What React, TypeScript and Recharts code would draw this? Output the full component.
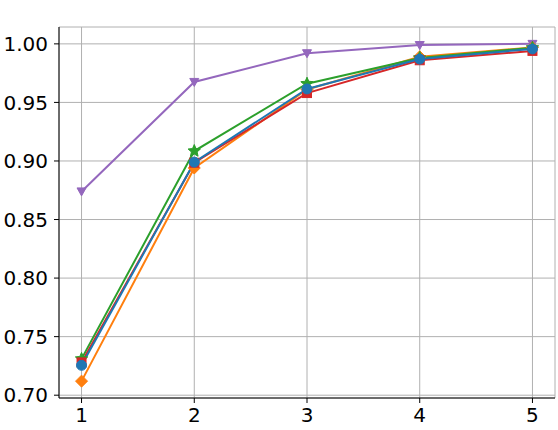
import { LineChart, Line, XAxis, YAxis, CartesianGrid } from 'recharts';

const steps = [1, 2, 3, 4, 5];
const blueVals = [0.7255, 0.899, 0.9615, 0.987, 0.9957];
const orangeVals = [0.712, 0.894, 0.961, 0.989, 0.997];
const greenVals = [0.731, 0.9085, 0.966, 0.988, 0.9966];
const redVals = [0.728, 0.8985, 0.958, 0.986, 0.994];
const purpleVals = [0.874, 0.9675, 0.992, 0.999, 1.0];
const yTicks = [0.7, 0.75, 0.8, 0.85, 0.9, 0.95, 1.0];

const data = steps.map((s, i) => ({
  step: s,
  blue: blueVals[i],
  orange: orangeVals[i],
  green: greenVals[i],
  red: redVals[i],
  purple: purpleVals[i],
}));

const tickStyle = { fontFamily: 'DejaVu Sans', fontSize: 20, fill: '#000' };

const CircleDot = (p: any) => <circle key={p.index} cx={p.cx} cy={p.cy} r={5} fill="#1f77b4" stroke="#1f77b4" />;
const DiamondDot = (p: any) => (
  <polygon key={p.index} points={`${p.cx},${p.cy - 6} ${p.cx + 6},${p.cy} ${p.cx},${p.cy + 6} ${p.cx - 6},${p.cy}`} fill="#ff7f0e" stroke="#ff7f0e" />
);
const SquareDot = (p: any) => <rect key={p.index} x={p.cx - 4.5} y={p.cy - 4.5} width={9} height={9} fill="#d62728" stroke="#d62728" />;
const TriDot = (p: any) => (
  <polygon key={p.index} points={`${p.cx - 4.5},${p.cy - 3.5} ${p.cx + 4.5},${p.cy - 3.5} ${p.cx},${p.cy + 4.5}`} fill="#9467bd" stroke="#9467bd" />
);
const StarDot = (p: any) => {
  const pts: string[] = [];
  for (let k = 0; k < 10; k++) {
    const r = k % 2 === 0 ? 6.5 : 3;
    const a = -Math.PI / 2 + (k * Math.PI) / 5;
    pts.push(`${p.cx + r * Math.cos(a)},${p.cy + r * Math.sin(a)}`);
  }
  return <polygon key={p.index} points={pts.join(' ')} fill="#2ca02c" stroke="#2ca02c" />;
};

// matplotlib-style 5% margins around the data
const yDomain = [0.6976, 1.0144];
const xDomain = [0.8, 5.2];

export default function App() {
  return (
    <div style={{ fontFamily: 'DejaVu Sans', fontSize: 20 }}>
      <style>{`body { margin: 0; }`}</style>
      <LineChart width={558} height={430} data={data} margin={{ top: 27, right: 3, bottom: 0, left: 0 }}>
        <CartesianGrid stroke="#b0b0b0" strokeWidth={1} />
        <XAxis dataKey="step" type="number" domain={xDomain} ticks={steps} height={32} tickSize={5} tickMargin={5}
          fontSize={20} tick={tickStyle} tickLine={{ stroke: '#000' }} axisLine={{ stroke: '#000' }} allowDataOverflow />
        <XAxis xAxisId="top" orientation="top" dataKey="step" type="number" domain={xDomain} height={0} tick={false} tickLine={false} axisLine={{ stroke: '#000' }} />
        <YAxis type="number" domain={yDomain} ticks={yTicks} width={59} tickSize={5} tickMargin={6} fontSize={20}
          tickFormatter={(v: number) => v.toFixed(2)} tick={tickStyle} tickLine={{ stroke: '#000' }} axisLine={{ stroke: '#000' }} allowDataOverflow />
        <YAxis yAxisId="right" orientation="right" type="number" domain={yDomain} width={0} tick={false} tickLine={false} axisLine={{ stroke: '#000' }} />
        <Line dataKey="purple" stroke="#9467bd" strokeWidth={2} dot={TriDot} isAnimationActive={false} />
        <Line dataKey="orange" stroke="#ff7f0e" strokeWidth={2} dot={DiamondDot} isAnimationActive={false} />
        <Line dataKey="green" stroke="#2ca02c" strokeWidth={2} dot={StarDot} isAnimationActive={false} />
        <Line dataKey="red" stroke="#d62728" strokeWidth={2} dot={SquareDot} isAnimationActive={false} />
        <Line dataKey="blue" stroke="#1f77b4" strokeWidth={2} dot={CircleDot} isAnimationActive={false} />
      </LineChart>
    </div>
  );
}
